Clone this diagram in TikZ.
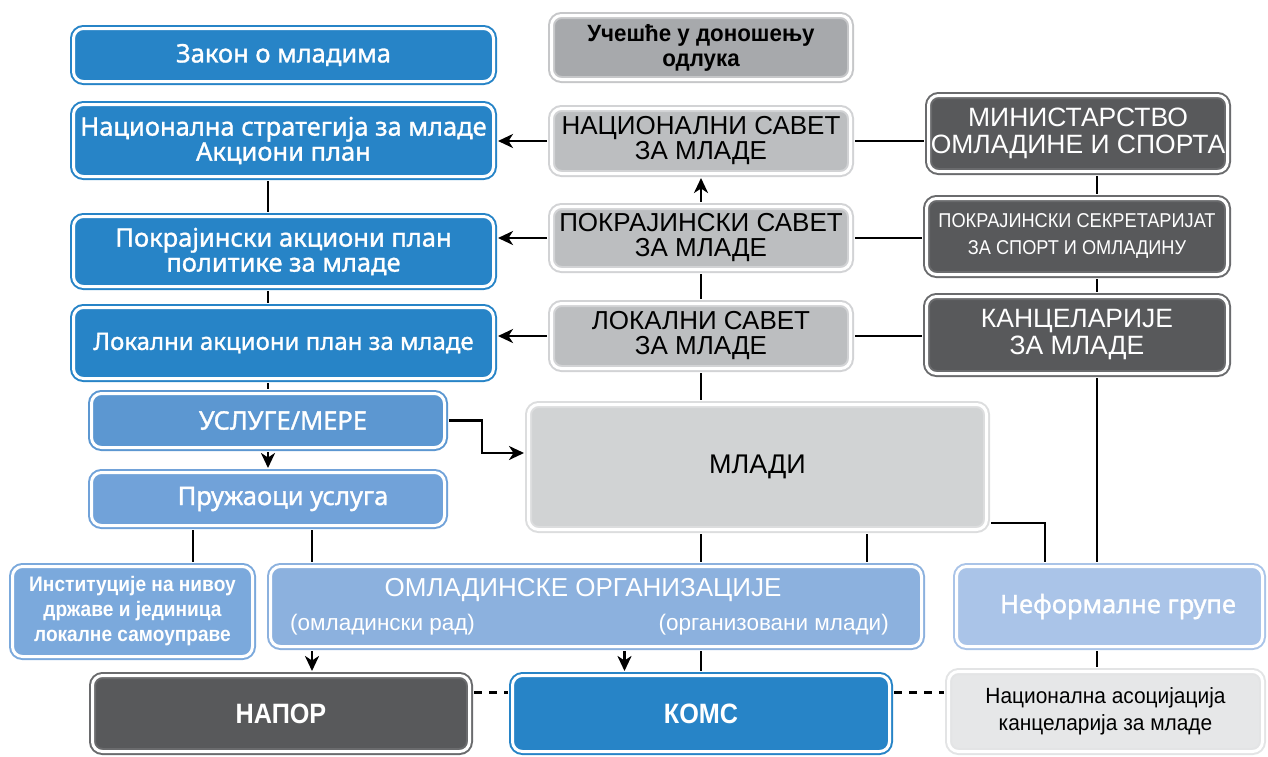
\documentclass[tikz,border=0pt]{standalone}
\usepackage{fontspec}
\setmainfont{Noto Sans}
\newfontfamily\medf{Noto Sans}[FakeBold=1.2]
\newfontfamily\libf{Liberation Sans}
\newfontfamily\libs{Liberation Sans}[FakeStretch=0.95]
\newfontfamily\libt{Liberation Sans}[FakeStretch=0.9]
\newfontfamily\libu{Liberation Sans}[FakeStretch=0.91]
\usetikzlibrary{arrows.meta}
\definecolor{cBlue}{HTML}{2784C7}
\definecolor{cUsl}{HTML}{5C97D1}
\definecolor{cPruz}{HTML}{71A2D9}
\definecolor{cInst}{HTML}{7BA9DC}
\definecolor{cOml}{HTML}{8CB1DE}
\definecolor{cNef}{HTML}{AAC4E8}
\definecolor{cUc}{HTML}{A7A9AC}
\definecolor{cUcB}{HTML}{C6C7C9}
\definecolor{cNs}{HTML}{BCBEC0}
\definecolor{cNsB}{HTML}{D2D3D5}
\definecolor{cMl}{HTML}{D1D3D4}
\definecolor{cMlB}{HTML}{DCDDDE}
\definecolor{cNa}{HTML}{E6E7E8}
\definecolor{cNaB}{HTML}{E3E4E5}
\definecolor{cDark}{HTML}{58595B}
\definecolor{cDarkB}{HTML}{6A6B6D}
\begin{document}
\begin{tikzpicture}[x=1pt,y=-1pt,
  box/.style={rectangle, rounded corners=10pt, line width=2pt, double=white,
    double distance=3pt, inner sep=0pt, align=center},
  bluebox/.style={box, draw=#1, fill=#1},
  bt/.style={font=\medf\fontsize{25.5}{25}\selectfont, text=white},
  ct/.style={font=\libf\fontsize{26}{25}\selectfont, text=black},
  cw/.style={font=\libf\fontsize{26.5}{27}\selectfont, text=white},
  conn/.style={line width=2.6pt, black, shorten <=3.5pt, shorten >=3.5pt},
  arr/.style={conn, -{Stealth[length=15pt,width=14pt,inset=4.5pt]}},
  dsh/.style={conn, dash pattern=on 8pt off 7pt},
  osub/.style={font=\libf\fontsize{22.5}{24}\selectfont, text=white, inner sep=0pt}]
\useasboundingbox (0,0) rectangle (1268,756);
% left column
\node[bluebox=cBlue, minimum width=420, minimum height=53, bt] (zakon) at (283.5,55) {Закон о младима};
\node[bluebox=cBlue, minimum width=420, minimum height=72, bt] (strat) at (283.5,140.5) {Национална стратегија за младе\\Акциони план};
\node[bluebox=cBlue, minimum width=420, minimum height=70, bt] (pokap) at (283.5,251.5) {Покрајински акциони план\\политике за младе};
\node[bluebox=cBlue, minimum width=420, minimum height=71, bt, font=\medf\fontsize{24}{25}\selectfont] (lokap) at (283.5,343) {Локални акциони план за младе};
\node[bluebox=cUsl, minimum width=353, minimum height=54, bt] (usluge) at (268,420.5) {\hspace*{30pt}УСЛУГЕ/МЕРЕ};
\node[bluebox=cPruz, minimum width=353, minimum height=53, bt] (pruz) at (268,499) {\hspace*{30pt}Пружаоци услуга};
\node[bluebox=cInst, minimum width=240, minimum height=90, font=\libu\bfseries\fontsize{21}{25}\selectfont, text=white] (inst) at (132.5,611.5) {Институције на нивоу\\државе и јединица\\локалне самоуправе};
\node[bluebox=cOml, minimum width=651, minimum height=80] (omlo) at (596,606.5) {};
\node[font=\libf\fontsize{26}{27}\selectfont, text=white, inner sep=0pt] (omlot) at (583,590) {ОМЛАДИНСКЕ ОРГАНИЗАЦИЈЕ};
\node[osub, anchor=west] (omlol) at (290,625) {(омладински рад)};
\node[osub, anchor=east] (omlor) at (889,625) {(организовани млади)};
\node[box, draw=cDarkB, fill=cDark, minimum width=377, minimum height=76, font=\libt\bfseries\fontsize{28}{30}\selectfont, text=white] (napor) at (281,713.5) {НАПОР};
\node[bluebox=cBlue, minimum width=377, minimum height=76, font=\libt\bfseries\fontsize{28}{30}\selectfont, text=white] (koms) at (701,713.5) {КОМС};
% middle column
\node[box, draw=cUcB, fill=cUc, minimum width=299, minimum height=64, font=\libs\bfseries\fontsize{23.5}{25}\selectfont] (ucesce) at (701,47.5) {Учешће у доношењу\\одлука};
\node[box, draw=cNsB, fill=cNs, minimum width=299, minimum height=65, ct] (ns) at (701,141) {НАЦИОНАЛНИ САВЕТ\\ЗА МЛАДЕ};
\node[box, draw=cNsB, fill=cNs, minimum width=299, minimum height=63, ct] (ps) at (701,238) {ПОКРАЈИНСКИ САВЕТ\\ЗА МЛАДЕ};
\node[box, draw=cNsB, fill=cNs, minimum width=299, minimum height=65, ct] (ls) at (701,336) {ЛОКАЛНИ САВЕТ\\ЗА МЛАДЕ};
\node[box, draw=cMlB, fill=cMl, minimum width=458, minimum height=125, font=\libf\fontsize{27}{27}\selectfont] (mladi) at (757.5,467) {МЛАДИ};
% right column
\node[box, draw=cDarkB, fill=cDark, minimum width=299, minimum height=76, cw] (min) at (1078,133.5) {МИНИСТАРСТВО\\ОМЛАДИНЕ И СПОРТА};
\node[box, draw=cDarkB, fill=cDark, minimum width=301, minimum height=76, font=\libu\fontsize{20}{27}\selectfont, text=white] (sek) at (1077,236.5) {ПОКРАЈИНСКИ СЕКРЕТАРИЈАТ\\ЗА СПОРТ И ОМЛАДИНУ};
\node[box, draw=cDarkB, fill=cDark, minimum width=301, minimum height=77, cw] (kanc) at (1077,335) {КАНЦЕЛАРИЈЕ\\ЗА МЛАДЕ};
\node[bluebox=cNef, minimum width=306, minimum height=80, bt] (neform) at (1109.5,606.5) {\hspace*{17pt}Неформалне групе};
\node[box, draw=cNaB, fill=cNa, minimum width=314, minimum height=80, font=\libs\fontsize{22}{27}\selectfont, text=black] (nacas) at (1105.5,711.5) {Национална асоцијација\\канцеларија за младе};
% connector coordinates
\coordinate (xl) at (268,0);
\coordinate (xm) at (701,0);
\coordinate (xr) at (1097,0);
\coordinate (pi) at (193,0);
\coordinate (po) at (312,0);
\coordinate (pk) at (624.5,0);
\coordinate (mo) at (867,0);
\coordinate (ub) at (482,453);
\coordinate (mb) at (1045,523);
\coordinate (dy) at (0,692.7);
% connectors
\draw[conn] (strat.south -| xl) -- (pokap.north -| xl);
\draw[conn] (pokap.south -| xl) -- (lokap.north -| xl);
\draw[conn] (lokap.south -| xl) -- (usluge.north -| xl);
\draw[arr] (usluge.south) -- (pruz.north);
\draw[conn] (pruz.south -| pi) -- (inst.north -| pi);
\draw[conn] (pruz.south -| po) -- (omlo.north -| po);
\draw[arr] (omlo.south -| po) -- (napor.north -| po);
\draw[arr] (omlo.south -| pk) -- (koms.north -| pk);
\draw[conn] (omlo.south -| xm) -- (koms.north -| xm);
\draw[conn] (mladi.south -| xm) -- (omlo.north -| xm);
\draw[conn] (mladi.south -| mo) -- (omlo.north -| mo);
\draw[conn] (ls.south) -- (mladi.north -| ls.south);
\draw[conn] (ls.north) -- (ps.south);
\draw[arr] (ps.north) -- (ns.south);
\draw[arr] (ns.west) -- (ns.west -| strat.east);
\draw[arr] (ps.west) -- (ps.west -| pokap.east);
\draw[arr] (ls.west) -- (ls.west -| lokap.east);
\draw[conn] (ns.east) -- (ns.east -| min.west);
\draw[conn] (ps.east) -- (ps.east -| sek.west);
\draw[conn] (ls.east) -- (ls.east -| kanc.west);
\draw[conn] (min.south -| xr) -- (sek.north -| xr);
\draw[conn] (sek.south -| xr) -- (kanc.north -| xr);
\draw[conn] (kanc.south -| xr) -- (neform.north -| xr);
\draw[conn] (neform.south -| xr) -- (nacas.north -| xr);
\draw[arr] (usluge.east) -| (ub) -- (ub -| mladi.west);
\draw[conn] (mb -| mladi.east) -| (neform.north -| mb);
\draw[dsh] (napor.east |- dy) -- (koms.west |- dy);
\draw[dsh] (koms.east |- dy) -- (nacas.west |- dy);
\end{tikzpicture}
\end{document}
